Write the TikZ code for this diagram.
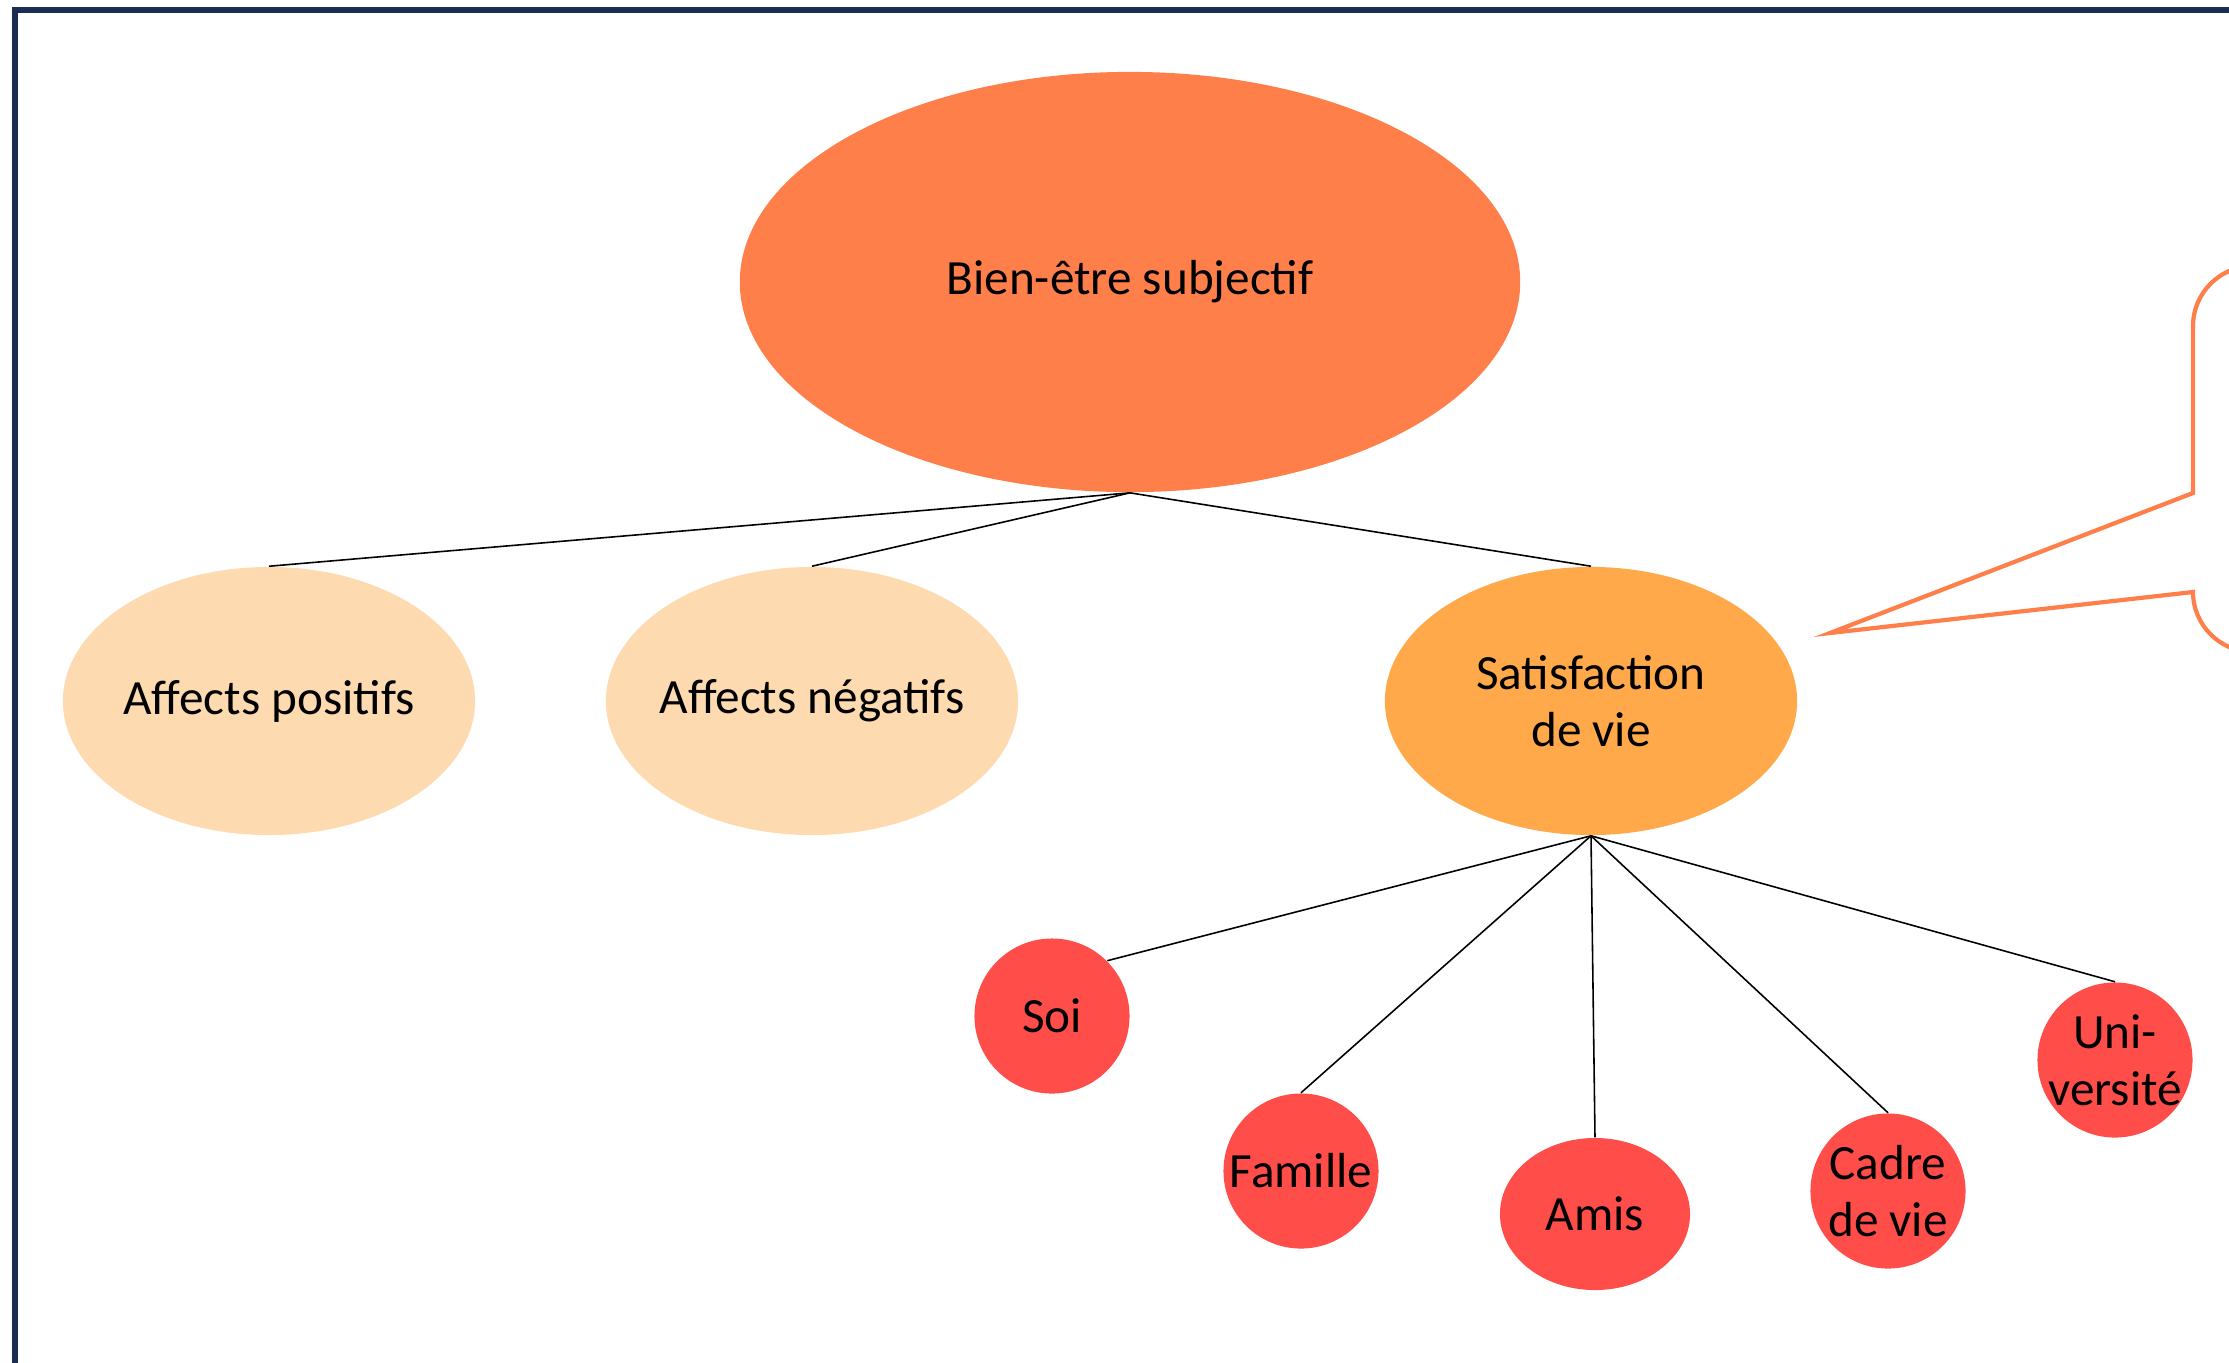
\documentclass[tikz,border=0pt]{standalone}
\usepackage{fontspec}
\setmainfont{Carlito}
\usetikzlibrary{shapes.geometric}

\definecolor{framenavy}{HTML}{1B2D52}
\definecolor{topfill}{HTML}{FF7F4A}
\definecolor{affectfill}{HTML}{FDDAB0}
\definecolor{satfill}{HTML}{FFA94A}
\definecolor{areafill}{HTML}{FF4D4A}

\begin{document}
\begin{tikzpicture}[x=0.01cm,y=-0.01cm,
  every node/.style={font=\fontsize{14}{16.2}\selectfont, align=center, inner sep=0pt},
  topnode/.style={ellipse, fill=topfill, minimum width=7.8cm, minimum height=4.2cm},
  affect/.style={ellipse, fill=affectfill, minimum width=4.12cm, minimum height=2.68cm,
    inner xsep=-0.2cm},
  satnode/.style={ellipse, fill=satfill, minimum width=4.12cm, minimum height=2.68cm},
  lifearea/.style={ellipse, fill=areafill, minimum width=1.55cm, minimum height=1.55cm,
    inner xsep=-0.3cm, inner ysep=-0.1cm},
  link/.style={draw=black, line width=0.45pt}]

  \useasboundingbox (0,0) rectangle (2229,1362);
  \clip (0,0) rectangle (2229,1362);

% Frame
  \draw[framenavy, line width=1.7pt] (2300,10) -- (15,10) -- (15,1400);

% Nodes
  \node[topnode]   (BE)  at (1130,282) {Bien-être subjectif};
  \node[affect]    (AP)  at (269,701)  {Affects positifs};
  \node[affect]    (AN)  at (812,701)  {Affects négatifs};
  \node[satnode]   (SV)  at (1591,701) {Satisfaction\\de vie};
  \node[lifearea]  (Soi) at (1052,1016) {Soi};
  \node[lifearea]  (Fam) at (1301,1171) {Famille};
  \node[lifearea, minimum width=1.9cm, minimum height=1.52cm]
                   (Ami) at (1595,1214) {Amis};
  \node[lifearea]  (Cad) at (1888,1191) {Cadre\\de vie};
  \node[lifearea]  (Uni) at (2115,1060) {Uni-\\versité};

% Edges
  \draw[link] (BE.south) -- (AP.north);
  \draw[link] (BE.south) -- (AN.north);
  \draw[link] (BE.south) -- (SV.north);
  \draw[link] (SV.south) -- (Soi.north east);
  \foreach \d in {Fam,Ami,Cad,Uni}
    \draw[link] (SV.south) -- (\d.north);

% Callout
  \draw[topfill, line width=1.2pt, line join=miter]
    (2300,266) -- (2253,266) .. controls (2220,266) and (2193,293) .. (2193,326)
    -- (2193,493) -- (1830,633) -- (2193,592)
    .. controls (2193,625) and (2220,652) .. (2253,652) -- (2300,652);

\end{tikzpicture}
\end{document}
